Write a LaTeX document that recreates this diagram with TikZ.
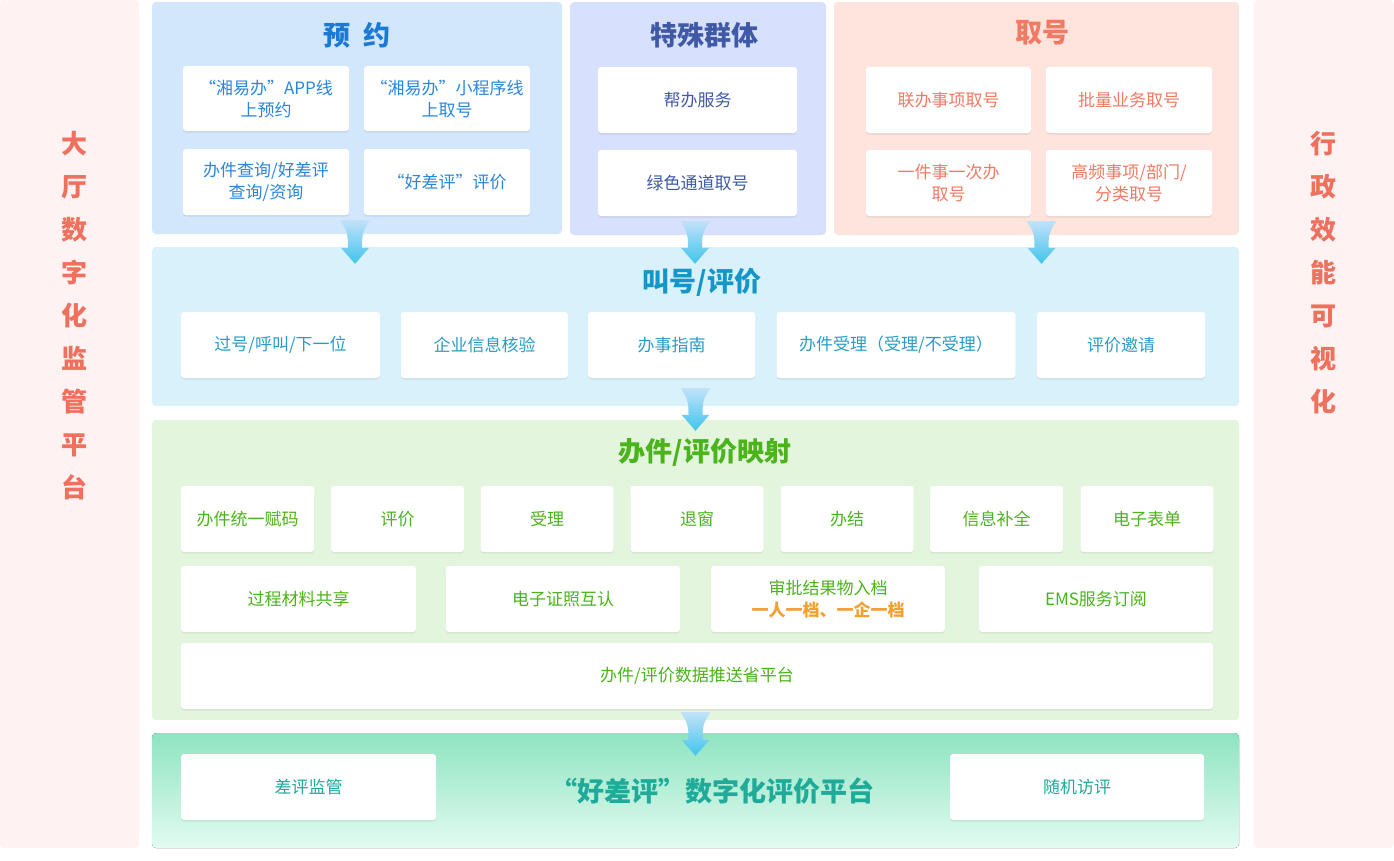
\documentclass[tikz,border=0pt]{standalone}
\usepackage{fontspec}
\setmainfont{Noto Sans CJK SC}
\usetikzlibrary{calc, shadows}

\definecolor{sidebg}{HTML}{FFF2F2}
\definecolor{sidetext}{HTML}{F0705E}
\definecolor{yuyuebg}{HTML}{D2E7FB}
\definecolor{yuyuetext}{HTML}{2A86DD}
\definecolor{yuyuetitle}{HTML}{1A7AD6}
\definecolor{teshubg}{HTML}{D7E0FC}
\definecolor{teshutext}{HTML}{3F59A6}
\definecolor{quhaobg}{HTML}{FDE4DD}
\definecolor{quhaotext}{HTML}{F07A64}
\definecolor{jiaohaobg}{HTML}{D9F1FB}
\definecolor{jiaohaotext}{HTML}{2A9BC8}
\definecolor{jiaohaotitle}{HTML}{1396C8}
\definecolor{yingshebg}{HTML}{E4F5DD}
\definecolor{yingshetext}{HTML}{4BB31B}
\definecolor{orangetext}{HTML}{F5A02E}
\definecolor{pingjiatop}{HTML}{8EE4C0}
\definecolor{pingjiabot}{HTML}{E2FBF1}
\definecolor{pingjiatext}{HTML}{1FAA9A}
\definecolor{arrowtop}{HTML}{C2E1F9}
\definecolor{arrowbot}{HTML}{3FC5EC}

\tikzset{
	panel/.style={fill=#1, rounded corners=4pt, inner sep=0pt},
	box/.style={fill=white, text=#1, rounded corners=3pt, align=center, inner sep=2pt,
		font=\fontsize{17}{22}\selectfont,
		drop shadow={shadow xshift=0pt, shadow yshift=-1.5pt, opacity=0.07, fill=black}},
	title/.style={text=#1, font=\fontsize{27}{30}\selectfont\bfseries},
	sidelabel/.style={text=sidetext, align=center, font=\fontsize{26}{43}\selectfont\bfseries},
	arrowshade/.style={top color=arrowtop, bottom color=arrowbot}
}

\newcommand{\flowarrow}[2]{%
	\shade[arrowshade] let \p1=(#1), \p2=(#2) in
		(\x1-15pt,\y1) .. controls (\x1-8pt,\y1-10pt) and (\x1-7pt,\y2+30pt) .. (\x1-7pt,\y2+16pt)
		-- (\x1-14pt,\y2+16pt) -- (\x1,\y2) -- (\x1+14pt,\y2+16pt) -- (\x1+7pt,\y2+16pt)
		.. controls (\x1+7pt,\y2+30pt) and (\x1+8pt,\y1-10pt) .. (\x1+15pt,\y1) -- cycle;
}

\begin{document}
\begin{tikzpicture}[x=1pt, y=-1pt]
	\useasboundingbox (0,0) rectangle (1394,860);
	
	\node [panel=sidebg, minimum width=139, minimum height=848] (leftside) at (69.5,424) {};
	\node [panel=sidebg, minimum width=140, minimum height=848] (rightside) at (1324,424) {};
	\node [sidelabel] (lefttext) at (74,316) {大\\厅\\数\\字\\化\\监\\管\\平\\台};
	\node [sidelabel] (righttext) at (1323,273) {行\\政\\效\\能\\可\\视\\化};
	
	\node [panel=yuyuebg, minimum width=410, minimum height=232] (yuyue) at (357,118) {};
	\node [panel=teshubg, minimum width=256, minimum height=233] (teshu) at (698,118.5) {};
	\node [panel=quhaobg, minimum width=405, minimum height=233] (quhao) at (1036.5,118.5) {};
	\node [panel=jiaohaobg, minimum width=1087, minimum height=159] (jiaohao) at (695.5,326.5) {};
	\node [panel=yingshebg, minimum width=1087, minimum height=300] (yingshe) at (695.5,570) {};
	\node [panel, top color=pingjiatop, bottom color=pingjiabot, minimum width=1087, minimum height=115] (pingjia) at (695.5,790.5) {};
	
	\node [title=yuyuetitle] (yuyuetitle) at (357,35) {预\hspace{14pt}约};
	\node [box=yuyuetext, minimum width=166, minimum height=65] (yy1) at (266,98.5) {“湘易办”APP线\\上预约};
	\node [box=yuyuetext, minimum width=166, minimum height=65] (yy2) at (447,98.5) {“湘易办”小程序线\\上取号};
	\node [box=yuyuetext, minimum width=166, minimum height=66] (yy3) at (266,182) {办件查询/好差评\\查询/资询};
	\node [box=yuyuetext, minimum width=166, minimum height=66] (yy4) at (447,182) {“好差评”评价};
	
	\node [title=teshutext] (teshutitle) at (704,35) {特殊群体};
	\node [box=teshutext, minimum width=199, minimum height=66] (ts1) at (697.5,100) {帮办服务};
	\node [box=teshutext, minimum width=199, minimum height=66] (ts2) at (697.5,183) {绿色通道取号};
	
	\node [title=quhaotext] (quhaotitle) at (1042,33) {取号};
	\node [box=quhaotext, minimum width=165, minimum height=66] (qh1) at (948.5,100) {联办事项取号};
	\node [box=quhaotext, minimum width=166, minimum height=66] (qh2) at (1129,100) {批量业务取号};
	\node [box=quhaotext, minimum width=165, minimum height=66] (qh3) at (948.5,183) {一件事一次办\\取号};
	\node [box=quhaotext, minimum width=166, minimum height=66] (qh4) at (1129,183) {高频事项/部门/\\分类取号};
	
	\node [title=jiaohaotitle] (jiaohaotitle) at (702,282) {叫号/评价};
	\node [box=jiaohaotext, minimum width=199, minimum height=66] (jh1) at (280.5,345) {过号/呼叫/下一位};
	\node [box=jiaohaotext, minimum width=167, minimum height=66] (jh2) at (484.5,345) {企业信息核验};
	\node [box=jiaohaotext, minimum width=167, minimum height=66] (jh3) at (671.5,345) {办事指南};
	\node [box=jiaohaotext, minimum width=239, minimum height=66] (jh4) at (896,345) {办件受理（受理/不受理）};
	\node [box=jiaohaotext, minimum width=168, minimum height=66] (jh5) at (1121,345) {评价邀请};
	
	\node [title=yingshetext] (yingshetitle) at (705,452) {办件/评价映射};
	\node [box=yingshetext, minimum width=133, minimum height=66] (ys1) at (247.5,519) {办件统一赋码};
	\node [box=yingshetext, minimum width=133, minimum height=66] (ys2) at (397.5,519) {评价};
	\node [box=yingshetext, minimum width=133, minimum height=66] (ys3) at (547,519) {受理};
	\node [box=yingshetext, minimum width=133, minimum height=66] (ys4) at (697,519) {退窗};
	\node [box=yingshetext, minimum width=133, minimum height=66] (ys5) at (847,519) {办结};
	\node [box=yingshetext, minimum width=133, minimum height=66] (ys6) at (996.5,519) {信息补全};
	\node [box=yingshetext, minimum width=133, minimum height=66] (ys7) at (1147,519) {电子表单};
	\node [box=yingshetext, minimum width=235, minimum height=66] (ys8) at (298.5,599) {过程材料共享};
	\node [box=yingshetext, minimum width=234, minimum height=66] (ys9) at (563,599) {电子证照互认};
	\node [box=yingshetext, minimum width=234, minimum height=66] (ys10) at (828,599) {审批结果物入档\\{\color{orangetext}\bfseries 一人一档、一企一档}};
	\node [box=yingshetext, minimum width=234, minimum height=66] (ys11) at (1096,599) {EMS服务订阅};
	\node [box=yingshetext, minimum width=1032, minimum height=66] (ys12) at (697,676) {办件/评价数据推送省平台};
	
	\node [title=pingjiatext] (pingjiatitle) at (712,791) {“好差评”数字化评价平台};
	\node [box=pingjiatext, minimum width=255, minimum height=66] (pj1) at (308.5,787) {差评监管};
	\node [box=pingjiatext, minimum width=254, minimum height=66] (pj2) at (1077,787) {随机访评};
	
	\flowarrow{$(yuyue.south)+(-2,-14)$}{$(jiaohao.north)+(0,17)$}
	\flowarrow{$(teshu.south)+(-3,-14)$}{$(jiaohao.north)+(0,17)$}
	\flowarrow{$(quhao.south)+(5,-14)$}{$(jiaohao.north)+(0,17)$}
	\flowarrow{$(jiaohao.south)+(0,-18)$}{$(yingshe.north)+(0,11)$}
	\flowarrow{$(yingshe.south)+(0,-8)$}{$(pingjia.north)+(0,23)$}
\end{tikzpicture}
\end{document}
